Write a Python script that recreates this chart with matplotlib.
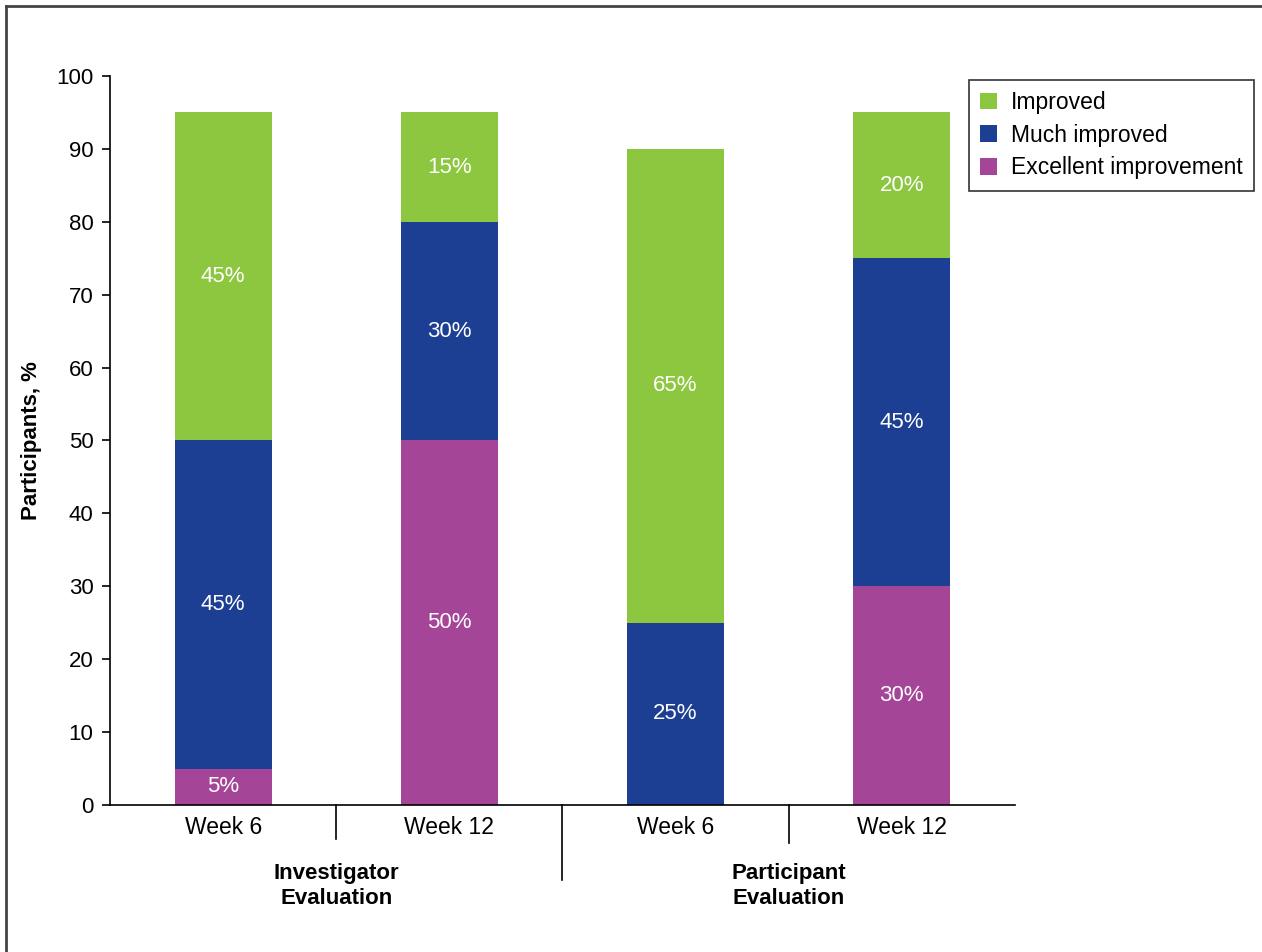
import matplotlib
matplotlib.use('Agg')
import matplotlib.pyplot as plt
from matplotlib.lines import Line2D

plt.rcParams['font.family'] = ['Liberation Sans', 'DejaVu Sans']

# data
weeks = ['Week 6', 'Week 12', 'Week 6', 'Week 12']
groups = ['Investigator\nEvaluation', 'Participant\nEvaluation']
excellent = [5, 50, 0, 30]
much = [45, 30, 25, 45]
improved = [45, 15, 65, 20]
series_names = ['Improved', 'Much improved', 'Excellent improvement']

GREEN = '#8dc63f'
BLUE = '#1d3f93'
MAGENTA = '#a44598'

fig = plt.figure(figsize=(12.62, 9.52), dpi=100)
ax = fig.add_axes([0.0872, 0.1544, 0.7170, 0.7658])

x = list(range(len(weeks)))
w = 0.43
bars_ex = ax.bar(x, excellent, w, color=MAGENTA, label=series_names[2])
bars_mu = ax.bar(x, much, w, bottom=excellent, color=BLUE, label=series_names[1])
bottom2 = [a + b for a, b in zip(excellent, much)]
bars_im = ax.bar(x, improved, w, bottom=bottom2, color=GREEN, label=series_names[0])

# segment labels (white, centred)
for vals, bots in [(excellent, [0] * 4), (much, excellent), (improved, bottom2)]:
    for i, (v, b) in enumerate(zip(vals, bots)):
        if v > 0:
            ax.text(i, b + v / 2, '%d%%' % v, ha='center', va='center',
                    color='white', fontsize=16)

ax.set_xlim(-0.5, 3.5)
ax.set_ylim(0, 100)
ax.set_yticks(range(0, 101, 10))
ax.tick_params(axis='y', labelsize=16, length=6, width=1.2, pad=6)
ax.set_xticks([])
ax.spines['top'].set_visible(False)
ax.spines['right'].set_visible(False)
ax.spines['left'].set_linewidth(1.2)
ax.spines['bottom'].set_linewidth(1.2)
ax.set_ylabel('Participants, %', fontsize=16, fontweight='bold', labelpad=10)

# week labels
trans = ax.get_xaxis_transform()
for i, lab in enumerate(weeks):
    ax.text(i, -0.031, lab, transform=trans, ha='center', va='center', fontsize=16.5)

# separators below axis
for xs, ylen in [(0.5, -0.047), (1.5, -0.103), (2.5, -0.052)]:
    ax.add_line(Line2D([xs, xs], [0, ylen], transform=trans, color='black',
                       lw=1.2, clip_on=False))

# group labels
for xc, lab in [(0.5, groups[0]), (2.5, groups[1])]:
    ax.text(xc, -0.08, lab, transform=trans, ha='center', va='top',
            fontsize=16, fontweight='bold', linespacing=1.25)

leg = ax.legend(handles=[bars_im, bars_mu, bars_ex], loc='upper left',
                bbox_to_anchor=(0.949, 0.995), fontsize=16.5, frameon=True,
                fancybox=False, edgecolor='black', handlelength=0.75,
                handleheight=0.75, handletextpad=0.6, borderpad=0.5,
                labelspacing=0.42, borderaxespad=0)
leg.get_frame().set_linewidth(1.2)

# frame lines at top and left of the figure
fig.add_artist(Line2D([0.0045, 0.0045], [0, 0.9935], transform=fig.transFigure,
                      color='#444444', lw=2))
fig.add_artist(Line2D([0.0045, 1.0], [0.9935, 0.9935], transform=fig.transFigure,
                      color='#444444', lw=2))

fig.savefig('out.png', dpi=100, facecolor='white')
